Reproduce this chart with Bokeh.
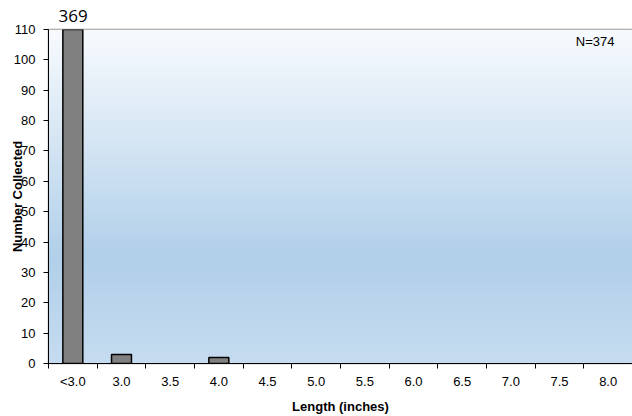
import numpy as np
from bokeh.plotting import figure
from bokeh.models import Range1d, FixedTicker, Label, ColumnDataSource
from bokeh.embed import file_html
from bokeh.resources import INLINE

categories = ["<3.0", "3.0", "3.5", "4.0", "4.5", "5.0", "5.5", "6.0", "6.5", "7.0", "7.5", "8.0"]
counts = [369, 3, 0, 2, 0, 0, 0, 0, 0, 0, 0, 0]
y_max = 110
y_ticks = list(range(0, 111, 10))
n_label = "N=374"

n = len(categories)
p = figure(width=632, height=416, output_backend="svg", toolbar_location=None,
           x_range=Range1d(0, n), y_range=Range1d(0, y_max),
           min_border_left=48, min_border_right=0, min_border_top=29, min_border_bottom=51,
           title=str(counts[0]))
p.grid.visible = False
p.outline_line_color = "#999999"
p.outline_line_width = 1.5
p.background_fill_color = "white"
p.border_fill_color = "white"

# value label for the clipped first bar (shown above the frame)
p.title.text_font = "Open Sans"
p.title.text_font_size = "17px"
p.title.text_font_style = "normal"
p.title.text_color = "black"
p.title.align = "left"
p.title.offset = 10
p.title.standoff = 15

# gradient background
stops_v = np.array([0.0, 35.0, 110.0])
stops_c = np.array([[198, 220, 240], [178, 208, 234], [248, 251, 254]])
rows = 220
vals = np.linspace(0, y_max, rows)
img = np.zeros((rows, 1), dtype=np.uint32)
view = img.view(dtype=np.uint8).reshape((rows, 1, 4))
for ch in range(3):
    view[:, 0, ch] = np.interp(vals, stops_v, stops_c[:, ch]).astype(np.uint8)
view[:, 0, 3] = 255
p.image_rgba(image=[img], x=0, y=0, dw=n, dh=y_max)

nz = [i for i, c in enumerate(counts) if c > 0]
src = ColumnDataSource(dict(x=[i + 0.5 for i in nz], top=[counts[i] for i in nz]))
p.vbar(x="x", top="top", width=0.41, source=src, fill_color="#808080",
       line_color="black", line_width=1.5)

p.add_layout(Label(x=n, y=y_max, text=n_label, text_align="right", text_baseline="top",
                   x_offset=-18, y_offset=-4, text_font="Liberation Sans",
                   text_font_size="13px", text_color="black"))

# x axis
xa = p.xaxis[0]
xa.ticker = FixedTicker(ticks=[i + 0.5 for i in range(n)], minor_ticks=list(range(n + 1)))
xa.major_label_overrides = {i + 0.5: c for i, c in enumerate(categories)}
xa.major_tick_out = 0
xa.major_tick_in = 0
xa.minor_tick_out = 5
xa.minor_tick_in = 0
xa.axis_line_color = "black"
xa.minor_tick_line_color = "black"
xa.major_label_text_font = "Liberation Sans"
xa.major_label_text_font_size = "13px"
xa.major_label_text_color = "black"
xa.major_label_standoff = 5
xa.axis_label = "Length (inches)"
xa.axis_label_text_font = "Liberation Sans"
xa.axis_label_text_font_style = "bold"
xa.axis_label_text_font_size = "13px"
xa.axis_label_text_color = "black"
xa.axis_label_standoff = 7

ya = p.yaxis[0]
ya.ticker = FixedTicker(ticks=y_ticks)
ya.minor_tick_line_color = None
ya.major_tick_out = 5
ya.major_tick_in = 0
ya.axis_line_color = "black"
ya.major_tick_line_color = "black"
ya.major_label_text_font = "Liberation Sans"
ya.major_label_text_font_size = "13px"
ya.major_label_text_color = "black"
ya.major_label_standoff = 8
ya.axis_label = "Number Collected"
ya.axis_label_text_font = "Liberation Sans"
ya.axis_label_text_font_style = "bold"
ya.axis_label_text_font_size = "13px"
ya.axis_label_text_color = "black"
ya.axis_label_standoff = -14

open("out.html", "w").write(file_html(p, INLINE))
